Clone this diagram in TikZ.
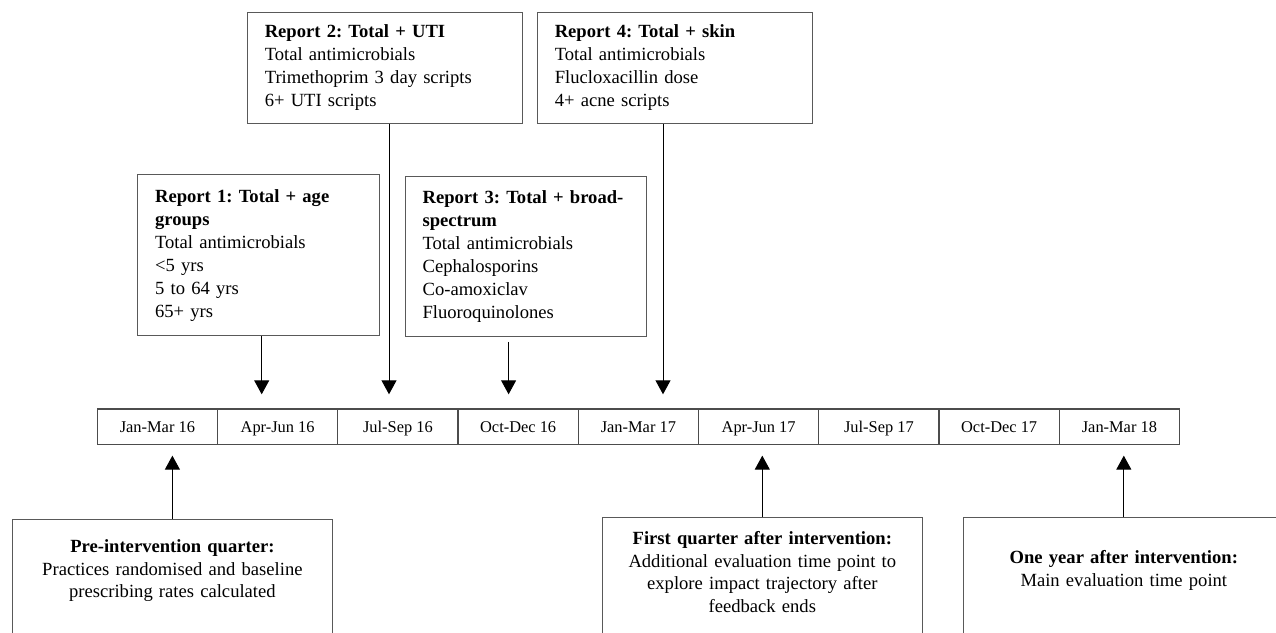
\documentclass[tikz,border=0pt]{standalone}
\usepackage{fontspec}
\setmainfont{Liberation Serif}
\usetikzlibrary{positioning,arrows.meta}
\frenchspacing

\begin{document}
\begin{tikzpicture}[x=1pt,y=-1pt,node distance=120.25pt,on grid,line width=1pt,
    >={Triangle[width=15pt,length=14pt]}]
    \tikzset{report/.style={draw=black!65,line width=1.2pt,rectangle,anchor=north west,align=left,inner xsep=17.5pt,inner ysep=0pt,font=\fontsize{18.6pt}{23pt}\selectfont}}
    \tikzset{quarter/.style={draw=black!70,line width=1.2pt,rectangle,minimum width=120.25pt,minimum height=35.3pt,inner sep=0pt,text height=12pt,text depth=0pt,font=\fontsize{16.4pt}{20pt}\selectfont}}
    \tikzset{outcome/.style={draw=black!65,line width=1.2pt,rectangle,anchor=north,text width=300pt,align=center,inner xsep=10pt,inner ysep=0pt,text depth=100pt,font=\fontsize{18.6pt}{22.6pt}\selectfont}}
    \useasboundingbox (0,0) rectangle (1276,632);
    % feedback reports
    \node[report,text width=207pt,minimum height=161pt] (r1) at (137,174) {\textbf{Report 1: Total + age}\\\textbf{groups}\\Total antimicrobials\\<5 yrs\\5 to 64 yrs\\65+ yrs};
    \node[report,text width=240.3pt,minimum height=111.3pt] (r2) at (246.7,11.7) {\textbf{Report 2: Total + UTI}\\Total antimicrobials\\Trimethoprim 3 day scripts\\6+ UTI scripts};
    \node[report,text width=206.5pt,minimum height=160.3pt] (r3) at (404.5,175.7) {\textbf{Report 3: Total + broad-}\\\textbf{spectrum}\\Total antimicrobials\\Cephalosporins\\Co-amoxiclav\\Fluoroquinolones};
    \node[report,text width=240.3pt,minimum height=111.3pt] (r4) at (536.7,11.7) {\textbf{Report 4: Total + skin}\\Total antimicrobials\\Flucloxacillin dose\\4+ acne scripts};
    % quarters
    \node[quarter] (q1) at (157.4,426.7) {Jan-Mar 16};
    \node[quarter] (q2) [right=of q1] {Apr-Jun 16};
    \node[quarter] (q3) [right=of q2] {Jul-Sep 16};
    \node[quarter] (q4) [right=of q3] {Oct-Dec 16};
    \node[quarter] (q5) [right=of q4] {Jan-Mar 17};
    \node[quarter] (q6) [right=of q5] {Apr-Jun 17};
    \node[quarter] (q7) [right=of q6] {Jul-Sep 17};
    \node[quarter] (q8) [right=of q7] {Oct-Dec 17};
    \node[quarter] (q9) [right=of q8] {Jan-Mar 18};
    % evaluation points
    \node[outcome,text height=33pt] (pre) at (172.4,519) {\textbf{Pre-intervention quarter:}\\Practices randomised and baseline\\prescribing rates calculated};
    \node[outcome,text height=27pt] (first) at (762.3,517) {\textbf{First quarter after intervention:}\\Additional evaluation time point to\\explore impact trajectory after\\feedback ends};
    \node[outcome,text height=46pt] (year) at (1123.8,517) {\textbf{One year after intervention:}\\Main evaluation time point};
    % arrows
    \coordinate (d1) at (261.7,409);
    \coordinate (d2) at (389,409);
    \coordinate (d3) at (508.6,409);
    \coordinate (d4) at (663,409);
    \draw[->,shorten >=14.7pt] (r1.south -| d1) -- (d1);
    \draw[->,shorten >=14.7pt] (r2.south -| d2) -- (d2);
    \draw[->,shorten >=14.7pt,shorten <=4.7pt] (r3.south -| d3) -- (d3);
    \draw[->,shorten >=14.7pt] (r4.south -| d4) -- (d4);
    \draw[->,shorten >=10.7pt] (pre.north) -- (pre.north |- q1.south);
    \draw[->,shorten >=10.7pt] (first.north) -- (first.north |- q6.south);
    \draw[->,shorten >=10.7pt] (year.north) -- (year.north |- q9.south);
\end{tikzpicture}
\end{document}
